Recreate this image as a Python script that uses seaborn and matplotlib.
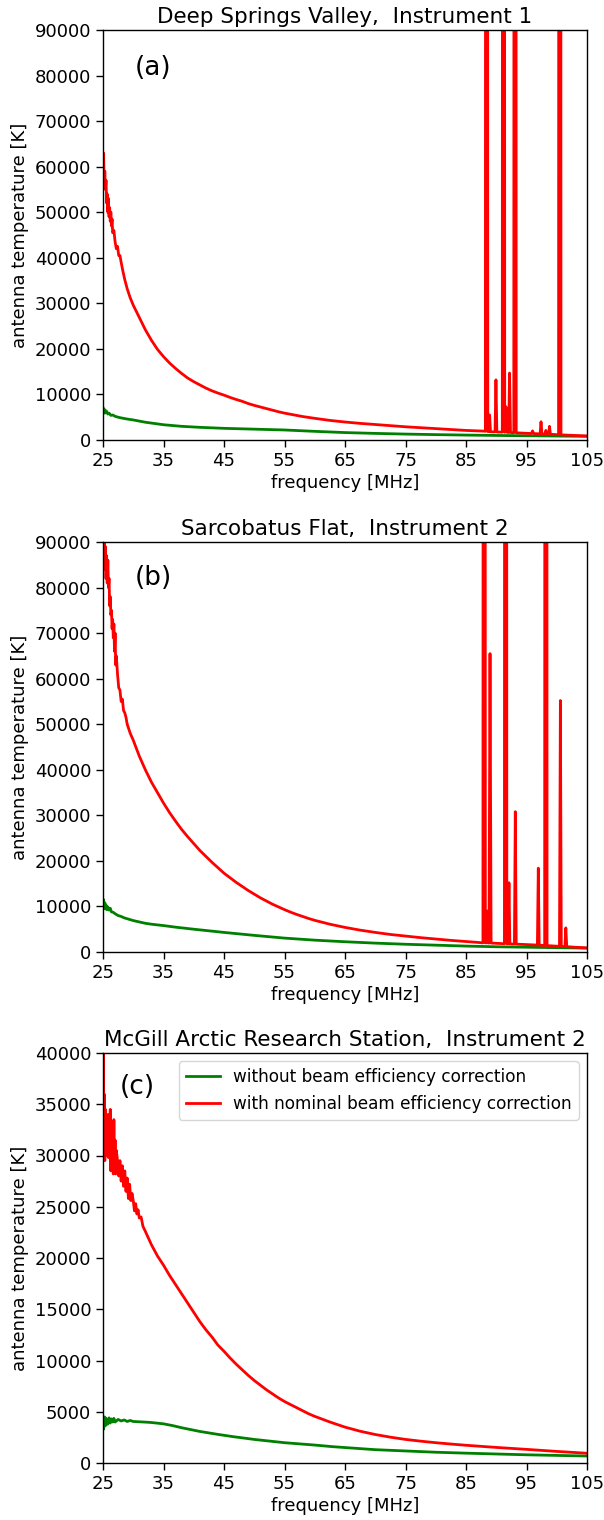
import matplotlib
matplotlib.use("Agg")
import matplotlib.pyplot as plt
import seaborn as sns
import numpy as np

# ---------------- data ----------------
xticks = [25, 35, 45, 55, 65, 75, 85, 95, 105]
titles = ["Deep Springs Valley,  Instrument 1",
          "Sarcobatus Flat,  Instrument 2",
          "McGill Arctic Research Station,  Instrument 2"]
panel_labels = ["(a)", "(b)", "(c)"]
legend_labels = ["without beam efficiency correction",
                 "with nominal beam efficiency correction"]

# Panel (a)
red_f_a = [25.0, 25.1, 25.2, 25.3, 25.4, 25.5, 25.6, 25.7, 25.8, 25.9, 26.0, 26.1, 26.2, 26.3, 26.4,
           26.5, 26.6, 26.8, 27.0, 27.2, 27.4, 27.6, 27.8, 28.0, 28.3, 28.6, 29.0, 29.5,
           30, 31, 32, 33, 34, 35, 36, 37, 38, 39, 40, 41, 42, 43, 44, 45, 46, 47, 48, 49, 50,
           51, 52, 53, 54, 55, 56, 57, 58, 59, 60, 62.5, 65, 67.5, 70, 72.5, 75, 77.5, 80, 82.5, 85,
           88.0, 88.2, 88.4, 88.6, 88.75, 88.9, 89.05, 89.8, 89.95, 90.1, 91.0, 91.2, 91.4, 91.6,
           91.75, 92.05, 92.2, 92.35, 92.9, 93.1, 93.3, 95.8, 96.0, 96.2, 97.25, 97.4, 97.55, 98.05,
           98.2, 98.35, 98.65, 98.8, 98.95, 100.3, 100.5, 100.7, 102.0, 105.0]
red_t_a = [60000, 63000, 56000, 59000, 55000, 57000, 52000, 54000, 50000, 53000, 49000, 51000, 48000, 50000, 47000,
           48500, 45500, 46000, 43500, 42000, 42500, 40500, 40500, 39000, 37000, 35200, 33200, 31200,
           29600, 26900, 24200, 21900, 19900, 18300, 16900, 15700, 14600, 13600, 12800, 12100, 11400, 10800, 10300,
           9850, 9350, 8900, 8500, 8000, 7600, 7250, 6900, 6550, 6200, 5900, 5650, 5400, 5150, 4950, 4760,
           4300, 3950, 3650, 3400, 3150, 2900, 2700, 2500, 2300, 2100,
           1950, 1900, 1000000, 1850, 1850, 5500, 1800, 1780, 13200, 1760, 1720, 1000000, 1700, 7300,
           1690, 1660, 14700, 1650, 1600, 1000000, 1580, 1420, 2000, 1410, 1350, 4000, 1340, 1310,
           2100, 1300, 1270, 3000, 1260, 1150, 1000000, 1130, 1050, 900]
green_f_a = [25.0, 25.1, 25.2, 25.3, 25.4, 25.5, 25.6, 25.8, 26.0, 26.3, 26.6, 27.0, 27.5, 28.0, 29.0,
             30.0, 32.0, 35.0, 38.0, 41.0, 45.0, 50.0, 55.0, 60.0, 65.0, 70.0, 75.0, 80.0, 85.0,
             90.0, 95.0, 100.0, 105.0]
green_t_a = [7000, 6100, 6800, 5900, 6500, 6000, 6300, 5700, 5900, 5400, 5500, 5200, 5000, 4850, 4600,
             4400, 3900, 3350, 3000, 2780, 2560, 2380, 2200, 1900, 1630, 1450, 1300, 1180, 1080,
             1000, 930, 870, 800]

# Panel (b)
red_f_b = [25.0, 25.1, 25.2, 25.3, 25.4, 25.5, 25.6, 25.7, 25.8, 25.9, 26.0, 26.1, 26.2, 26.3, 26.4,
           26.5, 26.6, 26.7, 26.8, 26.9, 27.0, 27.1, 27.2, 27.4, 27.6, 27.8, 28.0, 28.2, 28.4, 28.6,
           28.8, 29.0, 29.5,
           30, 31, 32, 33, 34, 35, 36, 37, 38, 39, 40, 41, 42, 43, 44, 45, 46, 47, 48, 49, 50,
           51, 52, 53, 54, 55, 56, 57, 58, 59, 60, 62.5, 65, 67.5, 70, 72.5, 75, 77.5, 80, 82.5, 85, 87.0,
           87.8, 88.0, 88.2, 88.35, 88.5, 88.65, 88.8, 88.97, 89.15, 91.35, 91.55, 91.75, 91.95, 92.1,
           92.25, 93.0, 93.15, 93.3, 96.8, 96.95, 97.1, 98.0, 98.2, 98.4, 100.45, 100.6, 100.75,
           101.35, 101.5, 101.65, 103.0, 105.0]
red_t_b = [92000, 88000, 91000, 84000, 89000, 82000, 87000, 81000, 86000, 80000, 82000, 76000, 78000, 74000, 75000,
           71000, 73000, 69000, 72000, 66000, 70000, 63000, 65000, 61000, 58000, 57500, 55000, 55500, 53000, 52500,
           51500, 50000, 48000,
           46500, 43000, 40000, 37300, 35000, 32700, 30600, 28700, 26900, 25300, 23800, 22300, 21000, 19700,
           18500, 17300, 16300, 15300, 14400, 13500, 12700, 11900, 11200, 10500, 9900, 9300, 8750, 8250,
           7800, 7350, 6950, 6100, 5400, 4800, 4300, 3850, 3500, 3150, 2850, 2550, 2300, 2100,
           2000, 1000000, 2000, 1990, 9000, 1980, 1970, 65500, 1960, 1820, 1000000, 1810, 1800, 15200,
           1790, 1740, 30800, 1730, 1520, 18400, 1510, 1420, 1000000, 1410, 1240, 55200, 1230,
           1180, 5300, 1170, 1050, 900]
green_f_b = [25.0, 25.1, 25.2, 25.3, 25.4, 25.5, 25.6, 25.8, 26.0, 26.2, 26.4, 26.7, 27.0, 27.5, 28.0,
             28.5, 29.0, 30.0, 31.0, 32.0, 33.0, 35.0, 37.0, 40.0, 45.0, 50.0, 55.0, 60.0, 65.0, 70.0,
             75.0, 80.0, 85.0, 90.0, 95.0, 100.0, 105.0]
green_t_b = [10000, 11500, 9500, 10800, 9800, 10300, 9300, 9900, 9200, 9600, 8800, 8700, 8400, 8000, 7800,
             7500, 7300, 6900, 6600, 6300, 6100, 5800, 5450, 5000, 4300, 3650, 3050, 2600, 2250, 1950,
             1700, 1500, 1300, 1150, 1050, 950, 850]

# Panel (c)
red_f_c = [25.0, 25.05, 25.1, 25.2, 25.3, 25.4, 25.5, 25.6, 25.7, 25.8, 25.9, 26.0, 26.1, 26.2, 26.3,
           26.4, 26.5, 26.6, 26.7, 26.8, 26.9, 27.0, 27.1, 27.2, 27.4, 27.6, 27.8, 28.0, 28.2, 28.4,
           28.6, 28.8, 29.0, 29.2, 29.4, 29.6, 29.8, 30.0, 30.2, 30.4, 30.6, 30.8, 31.0, 31.3, 31.6,
           32, 33, 34, 35, 36, 37, 38, 39, 40, 41, 42, 43, 44, 45, 46, 47, 48, 49, 50,
           51, 52, 53, 54, 55, 56, 57, 58, 59, 60, 62.5, 65, 67.5, 70, 72.5, 75, 77.5, 80, 82.5, 85,
           90, 95, 100, 105]
red_t_c = [33000, 40500, 31000, 36000, 29500, 34500, 30500, 33500, 30000, 34000, 29800, 32500, 30000, 34500, 28500,
           33000, 30500, 32000, 28200, 33500, 29000, 31500, 28200, 30500, 29500, 28000, 29500, 27500, 29000, 27000,
           28500, 26500, 27800, 25800, 27200, 25600, 26300, 25600, 24600, 25300, 24300, 24700, 23900, 24000, 23100,
           22600, 21300, 20200, 19300, 18300, 17400, 16500, 15600, 14700, 13800, 13000, 12300, 11500, 10900,
           10250, 9650, 9100, 8550, 8050, 7600, 7150, 6750, 6350, 6000, 5700, 5400, 5100, 4800, 4550,
           4000, 3500, 3100, 2780, 2520, 2300, 2130, 1980, 1850, 1730, 1520, 1330, 1130, 950]
green_f_c = [25.0, 25.1, 25.2, 25.3, 25.4, 25.5, 25.6, 25.8, 26.0, 26.2, 26.4, 26.6, 26.8, 27.0, 27.5,
             28.0, 28.5, 29.0, 29.5, 30.0, 31.0, 32.0, 33.0, 35.0, 36.5, 38.0, 41.0, 44.0, 46.5, 50.0, 55.0,
             60.0, 63.0, 70.0, 74.0, 80.0, 85.0, 90.0, 95.0, 100.0, 105.0]
green_t_c = [4200, 3300, 4500, 3600, 4400, 3700, 4300, 3800, 4400, 3900, 4300, 4000, 4350, 4000, 4250,
             4100, 4200, 4050, 4150, 4050, 4020, 3990, 3950, 3820, 3650, 3440, 3080, 2790, 2570, 2300, 1980,
             1750, 1590, 1300, 1200, 1050, 960, 880, 800, 740, 680]

ylims = [90000, 90000, 40000]
ysteps = [10000, 10000, 5000]

# ---------------- figure ----------------
plt.rcParams.update({
    "font.family": ["DejaVu Sans"],
    "font.size": 13,
    "axes.titlesize": 15.5,
    "axes.labelsize": 13,
    "xtick.labelsize": 13,
    "ytick.labelsize": 13,
    "legend.fontsize": 12.2,
    "axes.linewidth": 1.0,
    "xtick.major.width": 1.0,
    "ytick.major.width": 1.0,
    "xtick.major.size": 5,
    "ytick.major.size": 5,
    "xtick.major.pad": 3.5,
    "ytick.major.pad": 3.5,
})

fig = plt.figure(figsize=(6.04, 15.2), dpi=100)
W, H = 604.0, 1520.0
left, right = 103 / W, 587 / W
tops = [30, 542, 1053]
bottoms = [440, 952, 1463]

data = [(red_f_a, red_t_a, green_f_a, green_t_a),
        (red_f_b, red_t_b, green_f_b, green_t_b),
        (red_f_c, red_t_c, green_f_c, green_t_c)]
label_pos = [(0.066, 0.907), (0.066, 0.912), (0.035, 0.917)]

for i in range(3):
    ax = fig.add_axes([left, 1 - bottoms[i] / H, right - left, (bottoms[i] - tops[i]) / H])
    rf, rt, gf, gt = data[i]
    show_leg = (i == 2)
    sns.lineplot(x=gf, y=gt, ax=ax, color="green", linewidth=2.0,
                 label=legend_labels[0] if show_leg else None, legend=False)
    sns.lineplot(x=rf, y=rt, ax=ax, color="red", linewidth=2.0,
                 label=legend_labels[1] if show_leg else None, legend=False)
    ax.set_xlim(25, 105)
    ax.set_ylim(0, ylims[i])
    ax.set_xticks(xticks)
    ax.set_yticks(np.arange(0, ylims[i] + 1, ysteps[i]))
    ax.set_xlabel("frequency [MHz]", labelpad=3)
    ax.set_ylabel("antenna temperature [K]")
    ax.set_title(titles[i], pad=5)
    ax.text(label_pos[i][0], label_pos[i][1], panel_labels[i], transform=ax.transAxes,
            fontsize=19, ha="left", va="center")
    if show_leg:
        ax.legend(loc="upper right")

fig.savefig("out.png", dpi=100)
